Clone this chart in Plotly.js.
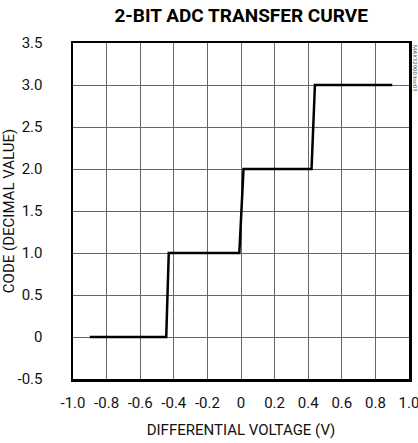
<!DOCTYPE html>
<html>
<head>
<meta charset="utf-8">
<script src="https://cdn.plot.ly/plotly-3.0.1.min.js"></script>
<style>
html,body{margin:0;padding:0;background:#fff;}
#chart{width:418px;height:443px;}
</style>
</head>
<body>
<div id="chart"></div>
<script>
const voltage = [-0.9, -0.445, -0.43, -0.01, 0.015, 0.42, 0.44, 0.9];
const code = [0, 0, 1, 1, 2, 2, 3, 3];
const xTickVals = [-1.0, -0.8, -0.6, -0.4, -0.2, 0, 0.2, 0.4, 0.6, 0.8, 1.0];
const xTickText = ["-1.0", "-0.8", "-0.6", "-0.4", "-0.2", "0", "0.2", "0.4", "0.6", "0.8", "1.0"];
const yTickVals = [-0.5, 0, 0.5, 1.0, 1.5, 2.0, 2.5, 3.0, 3.5];
const yTickText = ["-0.5", "0", "0.5", "1.0", "1.5", "2.0", "2.5", "3.0", "3.5"];

const font = "Roboto, 'Liberation Sans', sans-serif";

const data = [{
  x: voltage, y: code, type: 'scatter', mode: 'lines',
  line: {color: '#000', width: 2.5}, hoverinfo: 'skip'
}];

const layout = {
  width: 418, height: 443,
  margin: {l: 73, r: 9, t: 43, b: 64},
  paper_bgcolor: '#fff', plot_bgcolor: '#fff',
  showlegend: false,
  font: {family: font, size: 14, color: '#111'},
  title: {text: '<b>2-BIT ADC TRANSFER CURVE</b>', x: 0.577, xanchor: 'center', y: 0.966, yanchor: 'middle',
          font: {family: font, size: 19, color: '#000', weight: 900}},
  xaxis: {
    range: [-1, 1], tickvals: xTickVals, ticktext: xTickText,
    showgrid: true, gridcolor: '#666', gridwidth: 1,
    zeroline: false, showline: true, linecolor: '#000', linewidth: 2.5, mirror: true,
    ticks: 'outside', ticklen: 8, tickcolor: 'rgba(0,0,0,0)',
    ticklabeloverflow: 'allow',
    tickfont: {family: font, size: 15, color: '#111'},
    title: {text: 'DIFFERENTIAL VOLTAGE (V)', standoff: 14, font: {family: font, size: 15, color: '#111'}}
  },
  yaxis: {
    range: [-0.5, 3.5], tickvals: yTickVals, ticktext: yTickText,
    showgrid: true, gridcolor: '#666', gridwidth: 1,
    zeroline: false, showline: true, linecolor: '#000', linewidth: 2.5, mirror: true,
    ticks: 'outside', ticklen: 25, tickcolor: 'rgba(0,0,0,0)',
    ticklabeloverflow: 'allow',
    tickfont: {family: font, size: 15, color: '#111'},
    title: {text: 'CODE (DECIMAL VALUE)', standoff: 10, font: {family: font, size: 15, color: '#111'}}
  },
  annotations: [{
    text: 'MAX12900 toc01', xref: 'paper', yref: 'paper', x: 1.0, xshift: 1, y: 1.0,
    xanchor: 'left', yanchor: 'top', textangle: 90, showarrow: false,
    font: {family: font, size: 6, color: '#555'}
  }]
};

Plotly.newPlot('chart', data, layout, {staticPlot: true, displayModeBar: false});
</script>
</body>
</html>
